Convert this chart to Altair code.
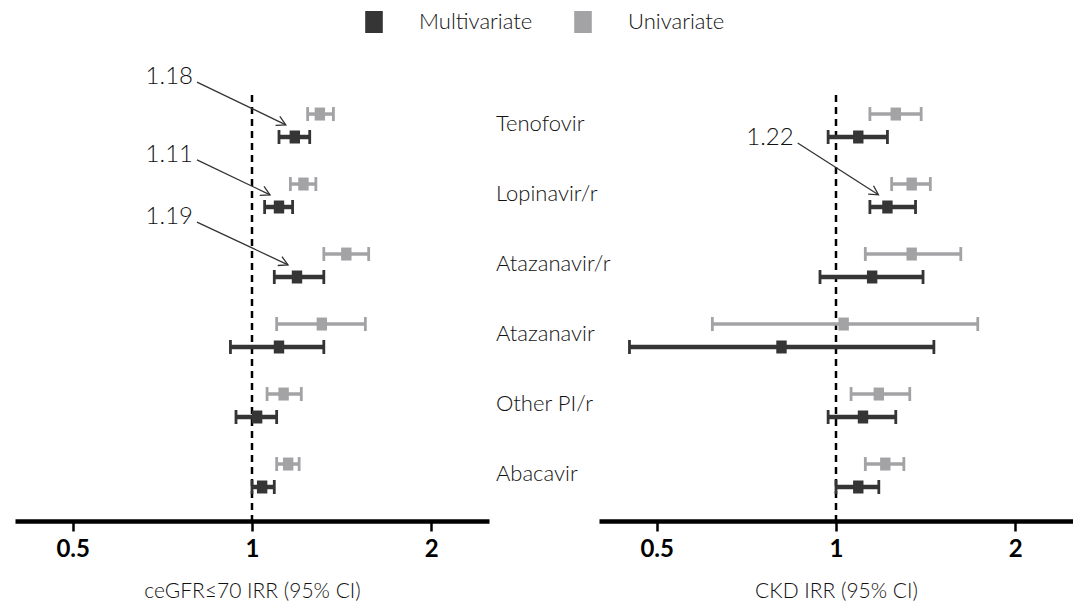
import math
import altair as alt
import pandas as pd

# Drugs, top to bottom
drugs = ["Tenofovir", "Lopinavir/r", "Atazanavir/r", "Atazanavir", "Other PI/r", "Abacavir"]

# ceGFR <= 70: incidence rate ratios with 95% CI
egfr_multi_est = [1.18, 1.11, 1.19, 1.11, 1.02, 1.04]
egfr_multi_lo = [1.11, 1.05, 1.09, 0.92, 0.94, 1.00]
egfr_multi_hi = [1.25, 1.17, 1.32, 1.32, 1.10, 1.09]
egfr_uni_est = [1.30, 1.22, 1.44, 1.31, 1.13, 1.15]
egfr_uni_lo = [1.24, 1.16, 1.32, 1.10, 1.06, 1.10]
egfr_uni_hi = [1.37, 1.28, 1.57, 1.55, 1.21, 1.20]

# CKD: incidence rate ratios with 95% CI
ckd_multi_est = [1.09, 1.22, 1.15, 0.81, 1.11, 1.09]
ckd_multi_lo = [0.97, 1.14, 0.94, 0.45, 0.97, 1.00]
ckd_multi_hi = [1.22, 1.36, 1.40, 1.46, 1.26, 1.18]
ckd_uni_est = [1.26, 1.34, 1.34, 1.03, 1.18, 1.21]
ckd_uni_lo = [1.14, 1.24, 1.12, 0.62, 1.06, 1.12]
ckd_uni_hi = [1.39, 1.44, 1.62, 1.73, 1.33, 1.30]

tick_values = [0.5, 1, 2]
series = ["Multivariate", "Univariate"]
colors = ["#353535", "#a3a3a6"]
bar_widths = [4.5, 3.5]

# Layout
FONT = "Lato"
TEXT_WEIGHT = 300
TEXT_COLOR = "#111111"
W, H = 474, 433
ROW_PX = 70
X_DOM = [0.4, 2.5]
Y0 = -0.536
Y1 = Y0 + H / ROW_PX
OFF = 0.164          # vertical split between univariate / multivariate in a row
PX_OCT = W / math.log2(X_DOM[1] / X_DOM[0])

RECT = "M-0.8,-1H0.8V1H-0.8Z"
ARROW = "M-1,-0.55L0,0L-1,0.55"

x_scale = alt.Scale(type="log", domain=X_DOM, nice=False)
y_scale = alt.Scale(domain=[Y0, Y1], reverse=True, nice=False, zero=False)
color_scale = alt.Scale(domain=series, range=colors)

legend = alt.Legend(
    title=None, orient="none", legendX=348, legendY=-77, direction="horizontal",
    symbolType=RECT, symbolSize=484, symbolStrokeWidth=0,
    labelFont=FONT, labelFontSize=22, labelFontWeight=TEXT_WEIGHT, labelColor=TEXT_COLOR,
    labelOffset=34, columnPadding=39,
)


def x_axis(title):
    return alt.Axis(
        values=tick_values, format="~g", grid=False,
        domainColor="black", domainWidth=4.5,
        tickColor="black", tickWidth=2.5, tickSize=10,
        labelFont=FONT, labelFontWeight="bold", labelFontSize=24, labelColor="black",
        labelPadding=6,
        title=title, titleFont=FONT, titleFontWeight=TEXT_WEIGHT, titleFontSize=21,
        titleColor=TEXT_COLOR, titleY=59, titleBaseline="top",
    )


def panel(est_m, lo_m, hi_m, est_u, lo_u, hi_u, title, notes, note_x, with_labels):
    recs = []
    for i, d in enumerate(drugs):
        recs.append(dict(drug=d, row=i, type="Univariate", est=est_u[i], lo=lo_u[i], hi=hi_u[i], ypos=i - OFF))
        recs.append(dict(drug=d, row=i, type="Multivariate", est=est_m[i], lo=lo_m[i], hi=hi_m[i], ypos=i + OFF))
    df = pd.DataFrame(recs)
    ax = x_axis(title)
    X = lambda f: alt.X(f, type="quantitative", scale=x_scale, axis=ax)
    Y = lambda f: alt.Y(f, type="quantitative", scale=y_scale, axis=None)

    base = alt.Chart(df)

    ref = alt.Chart(pd.DataFrame({"v": [1]})).mark_rule(
        color="black", strokeWidth=2.5, strokeDash=[7, 5]
    ).encode(
        x=X("v"),
        y=alt.Y(datum=-0.436, type="quantitative", scale=y_scale, axis=None),
        y2=alt.Y2(datum=Y1),
    )
    layers = [ref]

    # confidence intervals and end caps, one layer set per series
    for s, c, sw in zip(series[::-1], colors[::-1], bar_widths[::-1]):
        sub = base.transform_filter(alt.datum.type == s)
        layers.append(sub.mark_rule(color=c, strokeWidth=sw).encode(x=X("lo"), x2="hi", y=Y("ypos")))
        for f in ("lo", "hi"):
            layers.append(
                sub.mark_tick(orient="vertical", size=14, thickness=2.8, opacity=1, color=c).encode(
                    x=X(f), y=Y("ypos")
                )
            )

    layers.append(
        base.mark_point(shape=RECT, filled=True, size=169, opacity=1, strokeWidth=0).encode(
            x=X("est"), y=Y("ypos"),
            color=alt.Color("type:N", scale=color_scale, legend=legend),
        )
    )

    if notes:
        nrec = []
        for row, lift in notes:
            est = est_m[row]
            tip_x = est * 2 ** (-9 / PX_OCT)
            tip_y = row - 0.01
            sx = note_x * 2 ** (4 / PX_OCT)
            sy = row + lift
            ang = math.degrees(math.atan2((tip_y - sy) * ROW_PX, math.log2(tip_x / sx) * PX_OCT))
            nrec.append(dict(label=f"{est:.2f}", tx=note_x, sx=sx, sy=sy, tip_x=tip_x, tip_y=tip_y, ang=ang))
        nd = alt.Chart(pd.DataFrame(nrec))
        layers += [
            nd.mark_rule(color="#333333", strokeWidth=1.3).encode(
                x=X("sx"), x2="tip_x", y=Y("sy"), y2="tip_y"
            ),
            nd.mark_point(shape=ARROW, filled=False, size=324, color="#333333",
                          strokeWidth=1.3, opacity=1).encode(
                x=X("tip_x"), y=Y("tip_y"), angle=alt.Angle("ang:Q", scale=None)
            ),
            nd.mark_text(align="right", baseline="middle", dy=-5, font=FONT, fontSize=24,
                         fontWeight=TEXT_WEIGHT, color=TEXT_COLOR).encode(
                x=X("tx"), y=Y("sy"), text="label:N"
            ),
        ]

    if with_labels:
        lab = pd.DataFrame({"drug": drugs, "row": list(range(len(drugs)))})
        layers.append(
            alt.Chart(lab).mark_text(align="left", baseline="middle", dy=-2, font=FONT, fontSize=22,
                                     fontWeight=TEXT_WEIGHT, color=TEXT_COLOR).encode(
                x=alt.value(-103), y=Y("row"), text="drug:N"
            )
        )

    return alt.layer(*layers).properties(width=W, height=H)


left = panel(egfr_multi_est, egfr_multi_lo, egfr_multi_hi,
             egfr_uni_est, egfr_uni_lo, egfr_uni_hi,
             "ceGFR≤70 IRR (95% CI)", [(0, -0.62), (1, -0.51), (2, -0.62)], 0.796, False)
right = panel(ckd_multi_est, ckd_multi_lo, ckd_multi_hi,
              ckd_uni_est, ckd_uni_lo, ckd_uni_hi,
              "CKD IRR (95% CI)", [(1, -0.75)], 0.849, True)

chart = alt.hconcat(left, right, spacing=110, bounds="flush").properties(
    padding={"left": 15, "top": 11, "right": 0, "bottom": 0}
).configure_view(stroke=None)

chart.save("out.html", embed_options={"renderer": "svg", "actions": False})
